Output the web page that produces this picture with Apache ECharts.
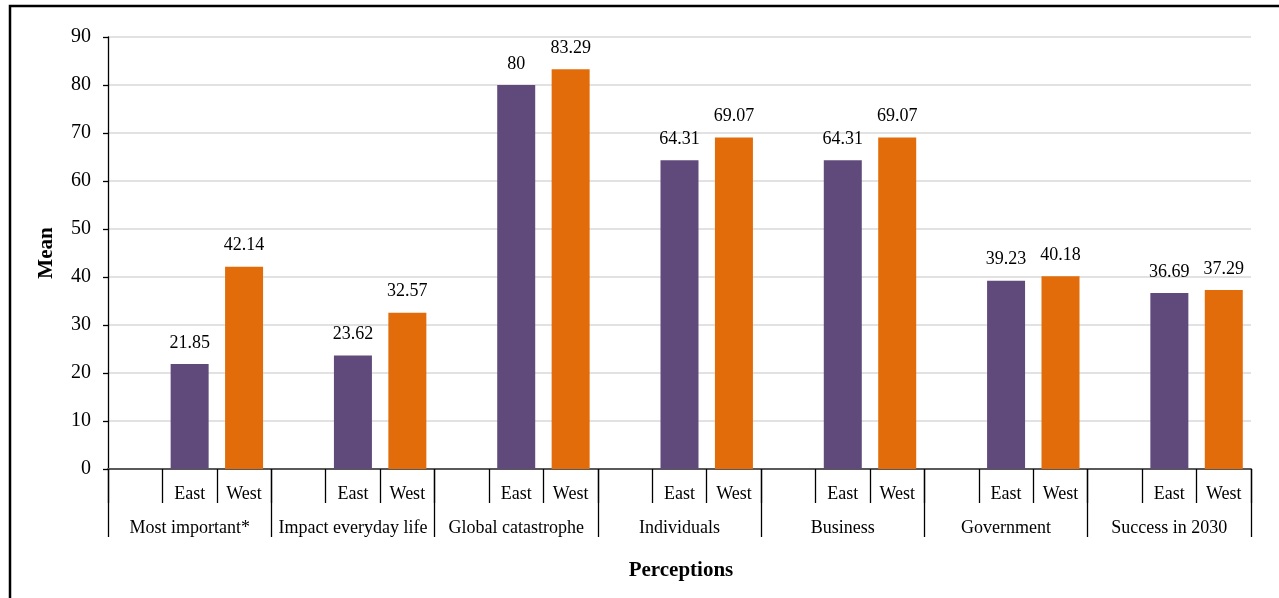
<!DOCTYPE html>
<html>
<head>
<meta charset="utf-8">
<script src="https://cdn.jsdelivr.net/npm/echarts@6/dist/echarts.min.js"></script>
<style>
  html, body { margin: 0; padding: 0; background: #fff; }
  #chart { width: 1279px; height: 598px; }
</style>
</head>
<body>
<div id="chart"></div>
<script>
// Perception groups and the mean score for each region
const groups = ['Most important*', 'Impact everyday life', 'Global catastrophe', 'Individuals', 'Business', 'Government', 'Success in 2030'];
const subLabels = ['', 'East', 'West'];
const eastValues = [21.85, 23.62, 80, 64.31, 64.31, 39.23, 36.69];
const westValues = [42.14, 32.57, 83.29, 69.07, 69.07, 40.18, 37.29];
const yTicks = { min: 0, max: 90, interval: 10 };

// Each group takes three slots on the inner axis: an empty one, East, West
const slotNames = [];
const eastData = [];
const westData = [];
groups.forEach((g, i) => {
  subLabels.forEach(s => slotNames.push(s));
  eastData.push('-', eastValues[i], '-');
  westData.push('-', '-', westValues[i]);
});

const serif = '"Liberation Serif", "Times New Roman", serif';
const labelStyle = {
  show: true, position: 'top', distance: 12,
  color: '#000', fontFamily: serif, fontSize: 18
};

const chart = echarts.init(document.getElementById('chart'), null, { renderer: 'canvas' });
chart.setOption({
  animation: false,
  backgroundColor: '#fff',
  grid: { left: 108, right: 28, top: 37, bottom: 129, containLabel: false },
  graphic: [{
    type: 'rect', silent: true, z: 100,
    shape: { x: 10, y: 6, width: 1400, height: 800 },
    style: { fill: 'none', stroke: '#000', lineWidth: 2.5 }
  }, {
    // x-axis title, centred under the plot area
    type: 'text', silent: true,
    x: 681, y: 571,
    style: {
      text: 'Perceptions', font: 'bold 21px ' + serif, fill: '#000',
      align: 'center', verticalAlign: 'middle'
    }
  }],
  xAxis: [{
    type: 'category',
    data: slotNames,
    position: 'bottom',
    axisLine: { show: true, lineStyle: { color: '#595959', width: 2 } },
    axisTick: { show: true, interval: 0, length: 34, lineStyle: { color: '#000', width: 1.3 } },
    axisLabel: { interval: 0, margin: 16, color: '#000', fontFamily: serif, fontSize: 18 },
    splitLine: { show: false }
  }, {
    type: 'category',
    data: groups,
    position: 'bottom',
    axisLine: { show: false },
    axisTick: { show: true, interval: 0, length: 68, lineStyle: { color: '#000', width: 1.3 } },
    axisLabel: { interval: 0, margin: 50, color: '#000', fontFamily: serif, fontSize: 18 },
    splitLine: { show: false }
  }],
  yAxis: {
    type: 'value',
    min: yTicks.min, max: yTicks.max, interval: yTicks.interval,
    name: 'Mean',
    nameLocation: 'middle',
    nameGap: 51,
    nameRotate: 90,
    nameTextStyle: { fontFamily: serif, fontSize: 21, fontWeight: 'bold', color: '#000' },
    axisLine: { show: true, lineStyle: { color: '#000', width: 1.3 } },
    axisTick: { show: true, length: 5, lineStyle: { color: '#000', width: 1.3 } },
    axisLabel: { margin: 17, color: '#000', fontFamily: serif, fontSize: 20 },
    splitLine: { show: true, lineStyle: { color: '#d9d9d9', width: 1.5 } }
  },
  series: [{
    name: 'East', type: 'bar', xAxisIndex: 0,
    data: eastData, barWidth: 38, barGap: '-100%',
    itemStyle: { color: '#604A7B' },
    label: labelStyle
  }, {
    name: 'West', type: 'bar', xAxisIndex: 0,
    data: westData, barWidth: 38, barGap: '-100%',
    itemStyle: { color: '#E36C0A' },
    label: labelStyle
  }]
});
</script>
</body>
</html>
